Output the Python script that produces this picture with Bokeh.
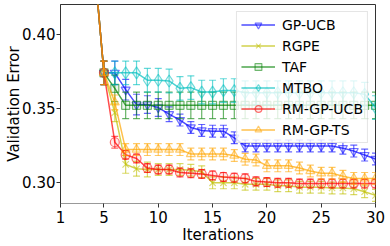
import math
from bokeh.plotting import figure
from bokeh.models import (FixedTicker, NumeralTickFormatter, Legend, LegendItem,
                          ColumnDataSource, Range1d)
from bokeh.embed import file_html
from bokeh.resources import INLINE

# ---------------- data ----------------
iterations = list(range(1, 31))
init_error = [0.62, 0.55, 0.50, 0.457]          # shared random initial points (iters 1-4)
init_err = [0.02, 0.02, 0.02, 0.015]

gp_ucb = init_error + [0.374, 0.374, 0.3626, 0.3525, 0.3525, 0.3505, 0.346, 0.342, 0.337, 0.335,
                       0.3345, 0.3345, 0.330, 0.3245, 0.3245, 0.3245, 0.3245, 0.3245, 0.3245,
                       0.3245, 0.3245, 0.3245, 0.323, 0.321, 0.3183, 0.3156]
gp_ucb_err = init_err + [0.008, 0.008, 0.007, 0.007, 0.006, 0.006, 0.005, 0.004, 0.004, 0.004,
                         0.004, 0.004, 0.004, 0.004, 0.004, 0.004, 0.004, 0.004, 0.004,
                         0.004, 0.004, 0.004, 0.004, 0.004, 0.004, 0.004]

rgpe = init_error + [0.374, 0.347, 0.312, 0.309, 0.3085, 0.3085, 0.3085, 0.3085, 0.308, 0.307,
                     0.2995, 0.2995, 0.2995, 0.2985, 0.2985, 0.2985, 0.2975, 0.2975, 0.2965,
                     0.2965, 0.2965, 0.296, 0.296, 0.2955, 0.2935, 0.291]
rgpe_err = init_err + [0.008, 0.006, 0.006, 0.005, 0.005, 0.004, 0.004, 0.004, 0.004, 0.004,
                       0.004, 0.004, 0.004, 0.004, 0.004, 0.004, 0.004, 0.004, 0.004,
                       0.004, 0.004, 0.004, 0.004, 0.004, 0.004, 0.004]

taf = init_error + [0.374, 0.3635, 0.352, 0.352, 0.352, 0.352, 0.352, 0.352, 0.352, 0.352,
                    0.352, 0.352, 0.352, 0.352, 0.352, 0.352, 0.352, 0.352, 0.352,
                    0.352, 0.352, 0.352, 0.352, 0.352, 0.352, 0.352]
taf_err = init_err + [0.008] + [0.009] * 25

mtbo = init_error + [0.374, 0.374, 0.374, 0.374, 0.369, 0.369, 0.3685, 0.3635, 0.364, 0.361,
                     0.361, 0.362, 0.362, 0.3605, 0.3605, 0.3605, 0.3605, 0.3605, 0.3605,
                     0.3605, 0.3605, 0.3605, 0.3605, 0.3605, 0.3595, 0.3505]
mtbo_err = init_err + [0.008] * 26

rm_gp_ucb = init_error + [0.374, 0.327, 0.3185, 0.316, 0.3095, 0.3085, 0.3085, 0.3065, 0.306, 0.3055,
                          0.3045, 0.3035, 0.303, 0.3025, 0.3005, 0.300, 0.2995, 0.2995, 0.299,
                          0.299, 0.299, 0.299, 0.299, 0.299, 0.299, 0.299]
rm_gp_ucb_err = init_err + [0.008, 0.004, 0.003, 0.003, 0.003, 0.003, 0.003, 0.003, 0.003, 0.003,
                            0.003, 0.003, 0.003, 0.003, 0.003, 0.003, 0.003, 0.003, 0.003,
                            0.003, 0.003, 0.003, 0.003, 0.003, 0.003, 0.003]

rm_gp_ts = init_error + [0.374, 0.354, 0.322, 0.322, 0.322, 0.322, 0.322, 0.322, 0.319, 0.319,
                         0.319, 0.319, 0.318, 0.3155, 0.315, 0.311, 0.311, 0.311, 0.3095,
                         0.3075, 0.306, 0.306, 0.304, 0.3025, 0.3025, 0.3025]
rm_gp_ts_err = init_err + [0.008, 0.005, 0.004, 0.004, 0.004, 0.004, 0.004, 0.004, 0.004, 0.004,
                           0.004, 0.004, 0.004, 0.004, 0.004, 0.004, 0.004, 0.004, 0.004,
                           0.004, 0.004, 0.004, 0.004, 0.004, 0.004, 0.004]

x_ticks = [1, 5, 10, 15, 20, 25, 30]
y_ticks = [0.30, 0.35, 0.40]
x_min, x_max = 1, 30
y_min, y_max = 0.2855, 0.4203

series = [
    ("GP-UCB", gp_ucb, gp_ucb_err, "#0000ff", "inverted_triangle", 9),
    ("RGPE", rgpe, rgpe_err, "#bfbf00", "x", 9),
    ("TAF", taf, taf_err, "#008000", "square", 8),
    ("MTBO", mtbo, mtbo_err, "#00bfbf", "diamond", 12),
    ("RM-GP-UCB", rm_gp_ucb, rm_gp_ucb_err, "#ff0000", "circle", 9),
    ("RM-GP-TS", rm_gp_ts, rm_gp_ts_err, "#ffa500", "triangle", 9),
]

FONT = "DejaVu Sans"

p = figure(width=390, height=246,
           x_range=Range1d(x_min, x_max), y_range=Range1d(y_min, y_max),
           output_backend="svg", toolbar_location=None,
           min_border_left=60, min_border_right=15, min_border_top=4, min_border_bottom=41)
p.background_fill_color = "white"
p.border_fill_color = "white"
p.outline_line_color = "#333333"
p.xgrid.visible = False
p.ygrid.visible = False

items = []
for name, vals, errs, color, marker, msize in series:
    src = ColumnDataSource(dict(
        x=iterations, y=vals,
        lo=[v - e for v, e in zip(vals, errs)],
        hi=[v + e for v, e in zip(vals, errs)],
    ))
    p.segment(x0="x", y0="lo", x1="x", y1="hi", source=src,
              line_color=color, line_alpha=0.6, line_width=1.2)
    p.scatter(x="x", y="lo", source=src, marker="dash", size=7,
              line_color=color, line_alpha=0.6, line_width=1.2)
    p.scatter(x="x", y="hi", source=src, marker="dash", size=7,
              line_color=color, line_alpha=0.6, line_width=1.2)
    ln = p.line(x="x", y="y", source=src, line_color=color, line_alpha=0.7, line_width=1.5)
    sc = p.scatter(x="x", y="y", source=src, marker=marker, size=msize,
                   line_color=color, line_alpha=0.55, line_width=1.2,
                   fill_color=color, fill_alpha=0.08)
    # legend-only vertical error-bar glyph (no data points)
    eb = p.scatter(x=[], y=[], marker="dash", angle=math.pi / 2, size=15,
                   line_color=color, line_alpha=0.6, line_width=1.2)
    items.append(LegendItem(label=name, renderers=[ln, eb, sc]))

legend = Legend(items=items, location="top_right")
legend.label_text_font = FONT
legend.label_text_font_size = "14px"
legend.label_text_color = "black"
legend.glyph_width = 34
legend.glyph_height = 17
legend.label_height = 17
legend.label_standoff = 7
legend.spacing = 4
legend.padding = 4
legend.margin = 7
legend.border_line_color = "#cccccc"
legend.border_line_width = 1
legend.background_fill_alpha = 0.8
p.add_layout(legend)

for ax in (p.xaxis[0], p.yaxis[0]):
    ax.axis_label_text_font = FONT
    ax.axis_label_text_font_size = "15px"
    ax.axis_label_text_font_style = "normal"
    ax.axis_label_text_color = "black"
    ax.major_label_text_font = FONT
    ax.major_label_text_font_size = "15px"
    ax.major_label_text_color = "black"
    ax.major_tick_out = 4
    ax.major_tick_in = 0
    ax.minor_tick_out = 0
    ax.minor_tick_in = 0
    ax.major_tick_line_color = "#333333"

p.xaxis.major_label_standoff = 3
p.xaxis.axis_label_standoff = 0
p.yaxis.major_label_standoff = 1
p.yaxis.axis_label_standoff = -4

p.xaxis.axis_label = "Iterations"
p.yaxis.axis_label = "Validation Error"
p.xaxis.ticker = FixedTicker(ticks=x_ticks)
p.yaxis.ticker = FixedTicker(ticks=y_ticks)
p.yaxis.formatter = NumeralTickFormatter(format="0.00")
p.xaxis.axis_line_color = "#999999"
p.yaxis.axis_line_color = "#333333"

open("out.html", "w").write(file_html(p, INLINE))
